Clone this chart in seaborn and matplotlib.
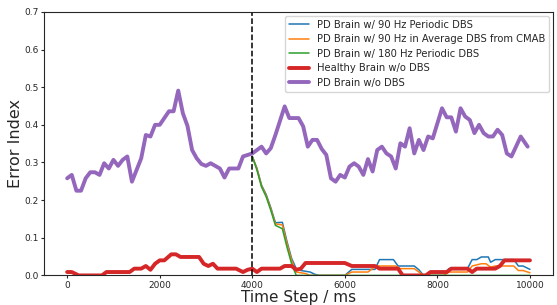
import numpy as np
import pandas as pd
import matplotlib
matplotlib.use("Agg")
import matplotlib.pyplot as plt
import seaborn as sns

# --- data (time in ms, error index) ---
pd_t = [0, 100, 200, 300, 400, 500, 600, 700, 800, 900, 1000, 1100, 1200, 1300,
        1400, 1500, 1600, 1700, 1800, 1900, 2000, 2100, 2200, 2300, 2400, 2500,
        2600, 2700, 2800, 2900, 3000, 3100, 3300, 3400, 3500, 3700, 3800, 4000,
        4100, 4200, 4300, 4400, 4500, 4700, 4800, 5000, 5100, 5200, 5300, 5400,
        5500, 5600, 5700, 5800, 5900, 6000, 6100, 6200, 6300, 6400, 6500, 6600,
        6700, 6800, 6900, 7000, 7100, 7200, 7300, 7400, 7500, 7600, 7700, 7800,
        7900, 8000, 8100, 8200, 8300, 8400, 8500, 8600, 8700, 8800, 8900, 9000,
        9100, 9200, 9300, 9400, 9500, 9600, 9800, 9950]
pd_v = [0.258, 0.267, 0.225, 0.225, 0.258, 0.274, 0.274, 0.267, 0.298, 0.284,
        0.307, 0.291, 0.307, 0.316, 0.249, 0.280, 0.311, 0.373, 0.369, 0.400,
        0.400, 0.418, 0.436, 0.436, 0.491, 0.431, 0.397, 0.333, 0.311, 0.296,
        0.291, 0.298, 0.284, 0.260, 0.284, 0.284, 0.316, 0.324, 0.333, 0.342,
        0.324, 0.338, 0.373, 0.449, 0.418, 0.418, 0.396, 0.342, 0.360, 0.360,
        0.336, 0.320, 0.258, 0.249, 0.267, 0.260, 0.289, 0.298, 0.289, 0.267,
        0.309, 0.276, 0.333, 0.342, 0.324, 0.316, 0.284, 0.351, 0.342, 0.391,
        0.324, 0.360, 0.333, 0.369, 0.364, 0.404, 0.444, 0.420, 0.420, 0.382,
        0.444, 0.422, 0.413, 0.378, 0.400, 0.378, 0.369, 0.369, 0.387, 0.373,
        0.324, 0.316, 0.369, 0.342]

healthy_t = [0, 100, 250, 750, 850, 1350, 1450, 1600, 1700, 1800, 1900, 2000,
             2100, 2250, 2350, 2450, 2850, 2950, 3050, 3150, 3250, 3650, 3800,
             3900, 4000, 4100, 4200, 4600, 4700, 4850, 4950, 5050, 5150, 6000,
             6150, 6650, 6750, 7150, 7250, 7750, 7850, 8200, 8300, 8650, 8750,
             8850, 9250, 9350, 9450, 10000]
healthy_v = [0.009, 0.009, 0.0, 0.0, 0.009, 0.009, 0.018, 0.018, 0.025, 0.015,
             0.031, 0.040, 0.040, 0.056, 0.056, 0.049, 0.049, 0.031, 0.025,
             0.031, 0.018, 0.018, 0.009, 0.015, 0.018, 0.009, 0.018, 0.018,
             0.025, 0.025, 0.015, 0.018, 0.033, 0.033, 0.025, 0.025, 0.018,
             0.018, 0.0, 0.0, 0.009, 0.009, 0.018, 0.018, 0.009, 0.018, 0.018,
             0.025, 0.040, 0.040]

p90_t = [4000, 4100, 4200, 4300, 4400, 4500, 4650, 4750, 4850, 4950, 5050,
         5250, 5350, 5450, 6000, 6150, 6650, 6750, 7050, 7150, 7500, 7600,
         7700, 8150, 8250, 8650, 8750, 8850, 8950, 9100, 9150, 9250, 9650,
         9750, 9850, 10000]
p90_v = [0.316, 0.285, 0.240, 0.215, 0.180, 0.140, 0.141, 0.090, 0.045, 0.018,
         0.013, 0.009, 0.003, 0.0, 0.0, 0.016, 0.016, 0.042, 0.042, 0.025,
         0.025, 0.015, 0.0, 0.0, 0.018, 0.018, 0.042, 0.042, 0.049, 0.049,
         0.035, 0.042, 0.042, 0.025, 0.025, 0.016]

cmab_t = [4000, 4100, 4200, 4300, 4400, 4500, 4650, 4750, 4850, 4950, 5150,
          5250, 6000, 6150, 6500, 6600, 6650, 7100, 7200, 7500, 7600, 7700,
          8150, 8250, 8650, 8750, 8950, 9050, 9150, 9250, 9650, 9750, 9850,
          10000]
cmab_v = [0.316, 0.283, 0.238, 0.212, 0.177, 0.137, 0.134, 0.085, 0.040, 0.009,
          0.005, 0.0, 0.0, 0.009, 0.009, 0.018, 0.025, 0.025, 0.018, 0.018,
          0.009, 0.0, 0.0, 0.009, 0.009, 0.025, 0.031, 0.031, 0.022, 0.025,
          0.025, 0.013, 0.013, 0.007]

p180_t = [4000, 4100, 4200, 4300, 4400, 4500, 4650, 4750, 4850, 4950, 10000]
p180_v = [0.316, 0.280, 0.235, 0.209, 0.173, 0.133, 0.124, 0.075, 0.031, 0.0, 0.0]

sns.set_style("ticks")
plt.rcParams['font.family'] = ['DejaVu Sans']

fig = plt.figure(figsize=(5.57, 3.05), dpi=100)
ax = fig.add_axes([0.079, 0.097, 0.914, 0.864])

lw_thin, lw_thick = 1.1, 2.8
sns.lineplot(x=p90_t, y=p90_v, ax=ax, color='#1f77b4', lw=lw_thin,
             label='PD Brain w/ 90 Hz Periodic DBS')
sns.lineplot(x=cmab_t, y=cmab_v, ax=ax, color='#ff7f0e', lw=lw_thin,
             label='PD Brain w/ 90 Hz in Average DBS from CMAB')
sns.lineplot(x=p180_t, y=p180_v, ax=ax, color='#2ca02c', lw=lw_thin,
             label='PD Brain w/ 180 Hz Periodic DBS')
sns.lineplot(x=healthy_t, y=healthy_v, ax=ax, color='#d62728', lw=lw_thick,
             label='Healthy Brain w/o DBS')
sns.lineplot(x=pd_t, y=pd_v, ax=ax, color='#9467bd', lw=lw_thick,
             label='PD Brain w/o DBS')
ax.axvline(4000, color='black', ls='--', lw=1.1)

ax.set_xlim(-500, 10500)
ax.set_ylim(0, 0.7)
ax.set_xticks([0, 2000, 4000, 6000, 8000, 10000])
ax.set_yticks([0.0, 0.1, 0.2, 0.3, 0.4, 0.5, 0.6, 0.7])
ax.tick_params(labelsize=6.5, length=2.5, width=0.8, pad=1.5)
ax.set_xlabel('Time Step / ms', fontsize=11, labelpad=0)
ax.set_ylabel('Error Index', fontsize=11.5, labelpad=1)
for s in ax.spines.values():
    s.set_linewidth(0.8)

ax.legend(loc='upper right', fontsize=7.2, frameon=True, borderaxespad=0.4,
          handlelength=2.0, labelspacing=0.45)

plt.savefig('out.png', dpi=100)
